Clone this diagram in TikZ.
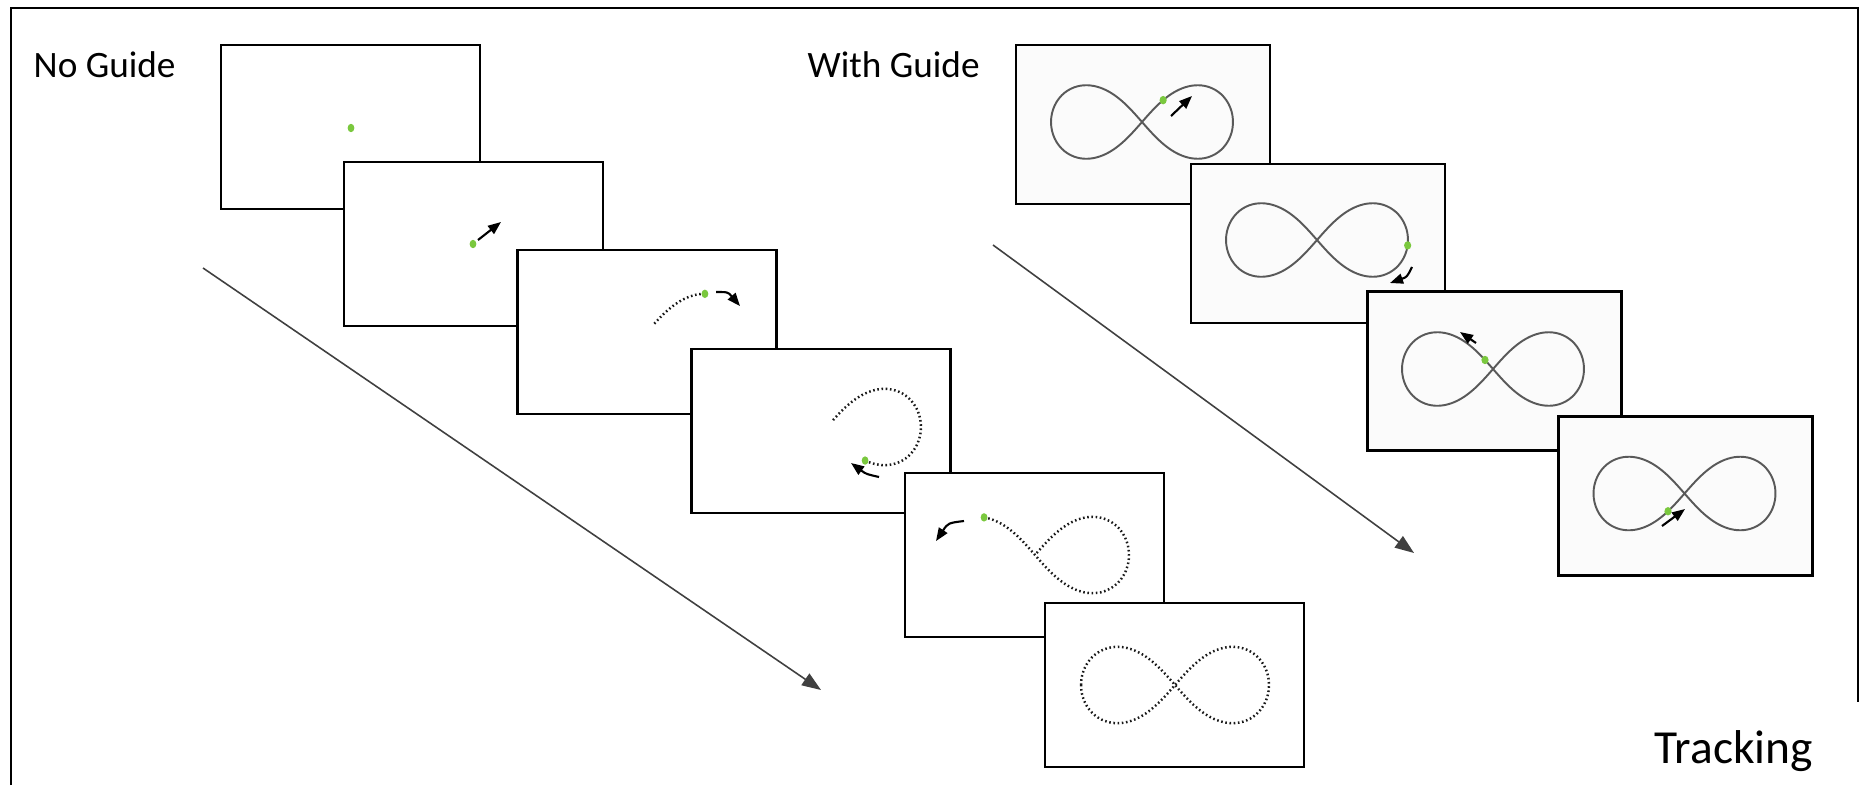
\documentclass[tikz,border=0pt]{standalone}
\usepackage{fontspec}
\setmainfont{Carlito}
\usetikzlibrary{arrows.meta}
\definecolor{dotgreen}{RGB}{122,200,62}
\begin{document}
\begin{tikzpicture}[x=1cm,y=-1cm,
  declare function={lx(\t)=cos(\t)/(1+sin(\t)^2); ly(\t)=sin(\t)*cos(\t)/(1+sin(\t)^2);},
  screen/.style={draw, line width=0.7pt, fill=white, inner sep=0pt, minimum width=2.59cm, minimum height=1.64cm},
  guidescreen/.style={screen, fill=black!1.5, minimum width=2.54cm, minimum height=1.59cm},
  trail/.style={black!90, line width=0.7pt, dash pattern=on 0.45pt off 0.75pt},
  guide/.style={black!65, line width=0.55pt},
  spot/.style={fill=dotgreen},
  move/.style={line width=0.6pt, -{Triangle[length=0.13cm, width=0.1cm]}},
  flow/.style={black!75, line width=0.45pt, -{Triangle[length=0.19cm, width=0.14cm]}},
  label/.style={anchor=base west, inner sep=0pt, font=\fontsize{10.6pt}{12pt}\selectfont}]
\useasboundingbox (0,0) rectangle (18.6,7.85);
\draw[line width=0.6pt] (0.11,7.85) -- (0.11,0.08) -- (18.58,0.08) -- (18.58,7.02);
% no guide
\node[label] (noguide) at (0.33,0.78) {No Guide};
\coordinate (ngstart) at (2.03,2.68);
\coordinate (ngend) at (8.21,6.90);
\draw[flow] (ngstart) -- (ngend);
\node[screen] (nb1) at (3.505,1.27) {};
\fill[spot] (3.51,1.28) ellipse (0.034 and 0.042);
\node[screen] (nb2) at (4.735,2.44) {};
\fill[spot] (4.73,2.44) ellipse (0.034 and 0.042);
\draw[move] (4.78,2.40) -- (5.01,2.22);
\node[screen] (nb3) at (6.47,3.32) {};
\draw[trail] plot[domain=35:82, samples=30, smooth] ({6.47+0.94*lx(\x)}, {3.32-1.08*ly(\x)});
\fill[spot] ({6.47+0.94*lx(35)}, {3.32-1.08*ly(35)}) ellipse (0.034 and 0.042);
\draw[move] (7.16,2.92) .. controls (7.28,2.92) .. (7.40,3.06);
\node[screen] (nb4) at (8.21,4.31) {};
\draw[trail] plot[domain=-50:84, samples=60, smooth] ({8.27+0.94*lx(\x)}, {4.27-1.08*ly(\x)});
\fill[spot] ({8.27+0.94*lx(-50)}, {4.27-1.08*ly(-50)}) ellipse (0.034 and 0.042);
\draw[move] (8.79,4.77) .. controls (8.66,4.74) .. (8.51,4.63);
\node[screen] (nb5) at (10.345,5.55) {};
\draw[trail] plot[domain=-140:88, samples=100, smooth] ({10.35+0.94*lx(\x)}, {5.55-1.08*ly(\x)});
\fill[spot] ({10.35+0.94*lx(-140)}, {5.55-1.08*ly(-140)}) ellipse (0.034 and 0.042);
\draw[move] (9.64,5.21) .. controls (9.48,5.23) .. (9.36,5.41);
\node[screen] (nb6) at (11.745,6.85) {};
\draw[trail] plot[domain=-180:180, samples=150, smooth] ({11.75+0.94*lx(\x)}, {6.85-1.08*ly(\x)});
% with guide
\node[label] (withguide) at (8.07,0.78) {With Guide};
\coordinate (wgstart) at (9.93,2.45);
\coordinate (wgend) at (14.14,5.53);
\draw[flow] (wgstart) -- (wgend);
\node[guidescreen] (wg1) at (11.43,1.245) {};
\draw[guide] plot[domain=-180:180, samples=150, smooth] ({11.42+0.91*lx(\x)}, {1.22-1.04*ly(\x)});
\fill[spot] ({11.42+0.91*lx(65)}, {1.22-1.04*ly(65)}) ellipse (0.036 and 0.042);
\draw[move] (11.71,1.16) -- (11.92,0.96);
\node[guidescreen] (wg2) at (13.18,2.435) {};
\draw[guide] plot[domain=-180:180, samples=150, smooth] ({13.17+0.91*lx(\x)}, {2.40-1.04*ly(\x)});
\fill[spot] ({13.17+0.91*lx(-3)}, {2.40-1.04*ly(-3)}) ellipse (0.036 and 0.042);
\draw[move] (14.12,2.67) .. controls (14.07,2.77) .. (13.90,2.83);
\node[guidescreen] (wg3) at (14.945,3.71) {};
\draw[guide] plot[domain=-180:180, samples=150, smooth] ({14.93+0.91*lx(\x)}, {3.69-1.04*ly(\x)});
\fill[spot] ({14.93+0.91*lx(-100)}, {3.69-1.04*ly(-100)}) ellipse (0.036 and 0.042);
\draw[move] (14.76,3.43) -- (14.60,3.32);
\node[guidescreen] (wg4) at (16.855,4.96) {};
\draw[guide] plot[domain=-180:180, samples=150, smooth] ({16.845+0.91*lx(\x)}, {4.935-1.04*ly(\x)});
\fill[spot] ({16.845+0.91*lx(110)}, {4.935-1.04*ly(110)}) ellipse (0.036 and 0.042);
\draw[move] (16.62,5.26) -- (16.85,5.09);
\node[label, font=\fontsize{13.5pt}{16pt}\selectfont] (tracking) at (16.54,7.63) {Tracking};
\end{tikzpicture}
\end{document}
